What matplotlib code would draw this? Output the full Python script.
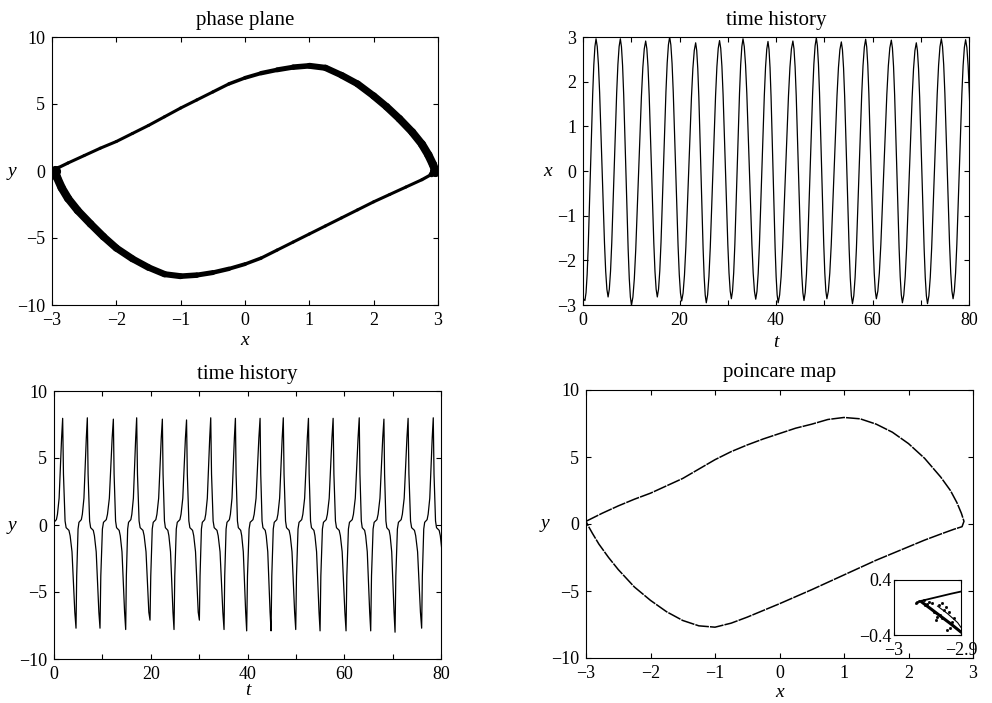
import numpy as np
import matplotlib
matplotlib.use("Agg")
import matplotlib.pyplot as plt
from matplotlib.collections import LineCollection

plt.rcParams['font.family'] = ['Liberation Serif', 'DejaVu Serif']
plt.rcParams['font.size'] = 13
plt.rcParams['axes.linewidth'] = 0.8
plt.rcParams['xtick.direction'] = 'in'
plt.rcParams['ytick.direction'] = 'in'
plt.rcParams['xtick.top'] = True
plt.rcParams['ytick.right'] = True
plt.rcParams['xtick.major.size'] = 3.5
plt.rcParams['ytick.major.size'] = 3.5
plt.rcParams['xtick.major.width'] = 0.8
plt.rcParams['ytick.major.width'] = 0.8
plt.rcParams['xtick.major.pad'] = 5
plt.rcParams['ytick.major.pad'] = 5

# ---------------- phase plane ----------------
phase_x_upper = [-2.96, -2.9, -2.75, -2.5, -2.25, -2.0, -1.75, -1.5, -1.25, -1.0, -0.75, -0.5, -0.25, 0.0,
                 0.25, 0.5, 0.75, 1.0, 1.25, 1.5, 1.75, 2.0, 2.2, 2.4, 2.6, 2.75, 2.85, 2.92, 2.96]
phase_y_upper = [0.0, 0.25, 0.6, 1.15, 1.7, 2.2, 2.8, 3.4, 4.05, 4.7, 5.3, 5.9, 6.5, 6.95,
                 7.3, 7.55, 7.75, 7.85, 7.7, 7.15, 6.5, 5.6, 4.8, 3.9, 2.9, 2.0, 1.2, 0.5, 0.0]
phase_x_lower = [2.96, 2.9, 2.75, 2.5, 2.25, 2.0, 1.75, 1.5, 1.25, 1.0, 0.75, 0.5, 0.25, 0.0,
                 -0.25, -0.5, -0.75, -1.0, -1.25, -1.5, -1.75, -2.0, -2.2, -2.4, -2.6, -2.75, -2.85, -2.92, -2.96]
phase_y_lower = [0.0, -0.25, -0.65, -1.2, -1.75, -2.3, -2.9, -3.5, -4.1, -4.7, -5.3, -5.9, -6.5, -6.95,
                 -7.3, -7.58, -7.77, -7.85, -7.7, -7.2, -6.55, -5.75, -4.9, -3.95, -2.95, -2.05, -1.25, -0.5, 0.0]
# band thickness along each branch (points): thin on the slow part, thick on the fast part
phase_w_branch = [3.0, 2.4, 2.2, 2.2, 2.2, 2.2, 2.2, 2.2, 2.2, 2.2, 2.2, 2.2, 2.4, 2.6,
                  3.0, 3.4, 3.8, 4.2, 4.5, 4.8, 5.0, 5.2, 5.4, 5.5, 5.6, 5.8, 6.0, 6.0, 6.0]

# ---------------- x time history ----------------
x_trough_t = [0.4, 5.2, 10.05, 15.4, 20.45, 25.55, 30.75, 35.8, 40.45, 45.8, 50.55, 55.85, 60.8, 66.2, 71.4, 76.7]
x_trough_v = [-2.9, -2.82, -3.0, -2.82, -2.91, -2.95, -2.86, -2.87, -2.95, -2.9, -2.86, -2.97, -2.86, -2.95, -2.97, -2.86]
x_peak_t = [-2.2, 2.7, 7.74, 12.99, 17.96, 23.35, 28.3, 33.16, 38.34, 43.5, 48.36, 53.54, 58.58, 63.9, 69.08, 74.27, 79.3]
x_peak_v = [2.95, 2.96, 2.96, 2.91, 3.0, 2.87, 2.92, 2.96, 2.9, 2.91, 2.98, 2.89, 2.95, 2.93, 2.87, 2.96, 2.94]
x_end_trough = (81.9, -2.9)
x_rise_f = [0.0, 0.1, 0.2, 0.3, 0.4, 0.5, 0.6, 0.7, 0.8, 0.9, 1.0]
x_rise_g = [0.0, 0.03, 0.10, 0.21, 0.35, 0.50, 0.65, 0.79, 0.90, 0.97, 1.0]
x_fall_f = [0.0, 0.1, 0.2, 0.3, 0.4, 0.5, 0.6, 0.7, 0.8, 0.9, 1.0]
x_fall_g = [1.0, 0.97, 0.90, 0.79, 0.65, 0.50, 0.35, 0.21, 0.10, 0.03, 0.0]

# ---------------- y time history ----------------
y_peak_t = [1.79, 6.89, 12.27, 17.09, 22.4, 27.4, 32.4, 37.5, 42.6, 47.4, 52.6, 57.7, 63.1, 68.2, 73.2, 78.4]
y_peak_v = [7.96, 8.0, 7.9, 8.0, 7.9, 7.84, 8.0, 7.96, 7.96, 8.0, 7.96, 7.96, 8.0, 7.9, 7.96, 8.0]
y_trough_t = [-0.65, 4.55, 9.51, 14.82, 19.85, 24.81, 30.05, 35.15, 39.83, 44.87, 49.97, 55.0, 60.37, 65.47, 70.5, 76.0, 81.0]
y_trough_v = [-7.8, -7.7, -7.7, -7.8, -7.1, -7.8, -7.1, -7.8, -7.9, -7.9, -7.8, -7.9, -7.9, -7.9, -8.0, -7.7, -7.8]
y_rise_f = [0.06, 0.18, 0.26, 0.47, 0.56, 0.70, 0.79, 0.91]
y_rise_v = [-3.8, -0.3, 0.2, 0.4, 0.8, 2.0, 4.0, 6.5]
y_fall_f = [0.06, 0.18, 0.26, 0.47, 0.56, 0.70, 0.79, 0.91]
y_fall_v = [3.8, 0.3, -0.2, -0.4, -0.8, -2.0, -4.0, -6.5]

# ---------------- poincare map ----------------
pc_x_upper = [-3.0, -2.75, -2.5, -2.25, -2.0, -1.75, -1.5, -1.25, -1.0, -0.75, -0.5, -0.25, 0.0, 0.25, 0.5,
              0.75, 1.0, 1.25, 1.5, 1.75, 2.0, 2.25, 2.5, 2.65, 2.75, 2.82, 2.86]
pc_y_upper = [0.2, 0.8, 1.35, 1.85, 2.3, 2.85, 3.4, 4.1, 4.8, 5.4, 5.9, 6.35, 6.75, 7.15, 7.45,
              7.8, 7.95, 7.85, 7.45, 6.85, 6.0, 4.9, 3.5, 2.5, 1.6, 0.8, 0.2]
pc_x_lower = [2.83, 2.7, 2.5, 2.25, 2.0, 1.5, 1.0, 0.5, 0.0, -0.25, -0.5, -0.75, -1.0, -1.25, -1.5,
              -1.75, -2.0, -2.25, -2.5, -2.65, -2.8, -2.9, -2.97, -3.0]
pc_y_lower = [-0.2, -0.4, -0.75, -1.2, -1.7, -2.7, -3.8, -4.9, -5.95, -6.45, -6.95, -7.4, -7.7, -7.6, -7.2,
              -6.55, -5.7, -4.7, -3.4, -2.5, -1.5, -0.7, -0.1, 0.2]
# inset (zoom near x=-3)
ins_line1_x = [-2.960, -2.945, -2.930, -2.915, -2.901]
ins_line1_y = [0.095, 0.13, 0.165, 0.20, 0.23]
ins_line2_x = [-2.958, -2.945, -2.930, -2.915, -2.901]
ins_line2_y = [0.075, -0.02, -0.13, -0.24, -0.35]
ins_line3_x = [-2.935, -2.920, -2.905, -2.900]
ins_line3_y = [0.02, -0.09, -0.22, -0.29]
ins_pts_x = [-2.9678, -2.9653, -2.948, -2.943, -2.928, -2.923, -2.9406, -2.9356, -2.938, -2.921, -2.928, -2.931,
             -2.913, -2.916, -2.953, -2.933, -2.918, -2.962, -2.955, -2.950, -2.925, -2.910]
ins_pts_y = [0.0606, 0.085, 0.085, 0.061, 0.061, 0.012, -0.061, -0.133, -0.182, -0.327, -0.158, -0.109,
             -0.206, -0.303, 0.036, 0.036, -0.061, 0.10, 0.11, 0.05, -0.03, -0.15]


def build_x():
    ts, vs = [0.0], [-2.85]
    ts.append(x_trough_t[0]); vs.append(x_trough_v[0])
    for i in range(len(x_trough_t)):
        t0, v0 = x_trough_t[i], x_trough_v[i]
        t1, v1 = x_peak_t[i + 1], x_peak_v[i + 1]
        for f, g in zip(x_rise_f[1:], x_rise_g[1:]):
            ts.append(t0 + f * (t1 - t0)); vs.append(v0 + g * (v1 - v0))
        if i + 1 < len(x_trough_t):
            t2, v2 = x_trough_t[i + 1], x_trough_v[i + 1]
        else:
            t2, v2 = x_end_trough
        for f, g in zip(x_fall_f[1:], x_fall_g[1:]):
            ts.append(t1 + f * (t2 - t1)); vs.append(v2 + g * (v1 - v2))
    return ts, vs


def build_y():
    ts, vs = [], []
    for i in range(len(y_peak_t)):
        t0, v0 = y_trough_t[i], y_trough_v[i]
        t1, v1 = y_peak_t[i], y_peak_v[i]
        t2 = y_trough_t[i + 1]
        ts.append(t0); vs.append(v0)
        for f, v in zip(y_rise_f, y_rise_v):
            ts.append(t0 + f * (t1 - t0)); vs.append(v)
        ts.append(t1); vs.append(v1)
        for f, v in zip(y_fall_f, y_fall_v):
            ts.append(t1 + f * (t2 - t1)); vs.append(v)
    ts.append(y_trough_t[-1]); vs.append(y_trough_v[-1])
    return ts, vs


def style_axes(ax):
    for s in ax.spines.values():
        s.set_linewidth(0.8)
    ax.tick_params(which='both', direction='in', top=True, right=True)


def ylab(ax, txt, xc):
    ax.set_ylabel(txt, rotation=0, style='italic', fontsize=14)
    ax.yaxis.label.set_ha('center')
    ax.yaxis.label.set_va('center')
    ax.yaxis.set_label_coords(xc, 0.5)


def xlab(ax, txt, yc):
    ax.set_xlabel(txt, style='italic', fontsize=14)
    ax.xaxis.label.set_va('center')
    ax.xaxis.set_label_coords(0.5, yc)


W, H = 992, 703
fig = plt.figure(figsize=(W / 100, H / 100), dpi=100)


def rect(l, r, t, b):
    return [l / W, 1 - b / H, (r - l) / W, (b - t) / H]


TITLE_FS = 15
TITLE_PAD = 9

# ---- phase plane ----
ax1 = fig.add_axes(rect(52, 438, 37, 305))
px = np.array(phase_x_upper + phase_x_lower[1:])
py = np.array(phase_y_upper + phase_y_lower[1:])
pw = np.array(phase_w_branch + phase_w_branch[1:])
pts = np.column_stack([px, py])
segs = np.stack([pts[:-1], pts[1:]], axis=1)
lc = LineCollection(segs, linewidths=(pw[:-1] + pw[1:]) / 2, colors='black',
                    capstyle='round', joinstyle='round')
ax1.add_collection(lc)
ax1.plot([phase_x_upper[0], phase_x_lower[0]], [phase_y_upper[0], phase_y_lower[0]], 'o',
         color='black', ms=7, clip_on=True)
ax1.set_xlim(-3, 3)
ax1.set_ylim(-10, 10)
ax1.set_xticks([-3, -2, -1, 0, 1, 2, 3])
ax1.set_yticks([-10, -5, 0, 5, 10])
ax1.set_title('phase plane', pad=TITLE_PAD, fontsize=TITLE_FS)
xlab(ax1, 'x', -0.131)
ylab(ax1, 'y', -0.105)
style_axes(ax1)

# ---- x time history ----
ax2 = fig.add_axes(rect(583, 969, 37, 305))
tx, vx = build_x()
ax2.plot(tx, vx, color='black', lw=0.9)
ax2.set_xlim(0, 80)
ax2.set_ylim(-3, 3)
t_ticks = [0, 10, 20, 30, 40, 50, 60, 70, 80]
t_labels = ['0', '', '20', '', '40', '', '60', '', '80']
ax2.set_xticks(t_ticks)
ax2.set_xticklabels(t_labels)
ax2.set_yticks([-3, -2, -1, 0, 1, 2, 3])
ax2.set_title('time history', pad=TITLE_PAD, fontsize=TITLE_FS)
xlab(ax2, 't', -0.14)
ylab(ax2, 'x', -0.093)
style_axes(ax2)

# ---- y time history ----
ax3 = fig.add_axes(rect(54, 441, 391, 659))
ty, vy = build_y()
ax3.plot(ty, vy, color='black', lw=0.9)
ax3.set_xlim(0, 80)
ax3.set_ylim(-10, 10)
ax3.set_xticks(t_ticks)
ax3.set_xticklabels(t_labels)
ax3.set_yticks([-10, -5, 0, 5, 10])
ax3.set_title('time history', pad=TITLE_PAD, fontsize=TITLE_FS)
xlab(ax3, 't', -0.116)
ylab(ax3, 'y', -0.108)
style_axes(ax3)

# ---- poincare map ----
ax4 = fig.add_axes(rect(586, 973, 390, 658))
ax4.plot(pc_x_upper + pc_x_lower, pc_y_upper + pc_y_lower, color='black', lw=1.1,
         linestyle=(0, (9, 0.7)), solid_joinstyle='round')
ax4.set_xlim(-3, 3)
ax4.set_ylim(-10, 10)
ax4.set_xticks([-3, -2, -1, 0, 1, 2, 3])
ax4.set_yticks([-10, -5, 0, 5, 10])
ax4.set_title('poincare map', pad=TITLE_PAD, fontsize=TITLE_FS)
xlab(ax4, 'x', -0.127)
ylab(ax4, 'y', -0.106)
style_axes(ax4)

# ---- inset ----
ax5 = fig.add_axes(rect(894, 961, 580, 635))
ax5.plot(ins_line1_x, ins_line1_y, color='black', lw=1.3)
ax5.plot(ins_line2_x, ins_line2_y, color='black', lw=2.2)
ax5.plot(ins_line3_x, ins_line3_y, color='black', lw=0.8)
ax5.plot(ins_pts_x, ins_pts_y, 's', color='black', ms=1.0, lw=0)
ax5.set_xlim(-3, -2.9)
ax5.set_ylim(-0.4, 0.4)
ax5.set_xticks([-3, -2.9])
ax5.set_xticklabels(['\u22123', '\u22122.9'])
ax5.set_yticks([-0.4, 0.4])
ax5.set_yticklabels(['\u22120.4', '0.4'])
ax5.tick_params(axis='x', direction='in', length=2, pad=5, top=True)
ax5.tick_params(axis='y', direction='in', length=2, pad=2, right=True)
for s in ax5.spines.values():
    s.set_linewidth(0.8)

fig.savefig('out.png', dpi=100)
